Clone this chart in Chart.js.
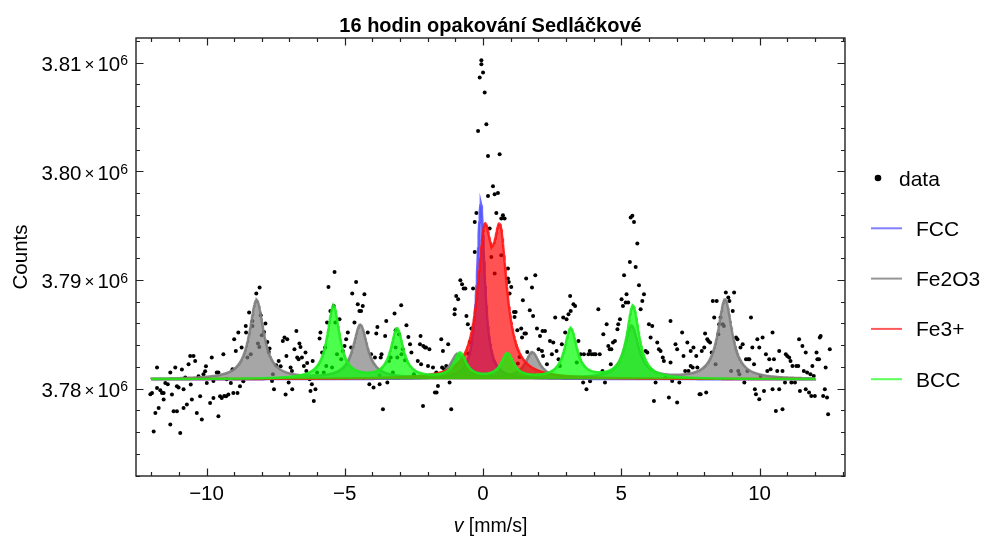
<!DOCTYPE html>
<html>
<head>
<meta charset="utf-8">
<script src="https://cdn.jsdelivr.net/npm/chart.js@4.4.0/dist/chart.umd.min.js"></script>
<style>
  html, body { margin: 0; padding: 0; background: #fff; }
  canvas { display: block; }
</style>
</head>
<body>
<canvas id="spectrum" width="987" height="540"></canvas>
<script>
// measured points, velocity in mm/s
const velocity = [
  -12.03,-11.97,-11.91,-11.85,-11.79,-11.79,-11.73,-11.67,-11.61,-11.55,-11.55,-11.49,-11.40,-11.31,-11.31,-11.25,-11.19,-11.13,-11.07,-11.07,
  -11.01,-10.95,-10.89,-10.83,-10.83,-10.77,-10.71,-10.65,-10.59,-10.57,-10.53,-10.47,-10.41,-10.35,-10.29,-10.23,-10.17,-10.11,-10.05,-10.02,
  -9.99,-9.87,-9.81,-9.75,-9.75,-9.63,-9.57,-9.57,-9.51,-9.45,-9.39,-9.36,-9.29,-9.27,-9.21,-9.12,-9.06,-9.03,-9.00,-8.94,
  -8.88,-8.85,-8.79,-8.73,-8.67,-8.58,-8.57,-8.52,-8.46,-8.40,-8.34,-8.34,
  -8.20,-8.08,-8.04,-8.00,-7.92,-7.87,-7.80,-7.75,-8.14,-8.09,-7.72,-7.60,-7.63,-7.56,-7.48,-7.39,-7.32,-7.24,-7.18,-7.11,
  -7.08,-7.14,-7.03,-6.96,-6.91,-6.90,-6.82,-6.75,-6.72,-6.67,-6.64,-6.60,-6.55,-6.48,-6.42,-6.39,-6.36,-6.27,-6.24,-6.19,
  -6.16,-6.12,-6.06,-6.00,-5.91,-5.88,-5.82,-5.76,-5.71,-5.67,-5.64,-5.59,-5.52,-5.46,-5.40,-5.37,-5.34,-5.28,-5.19,-5.13,
  -5.07,-5.01,-4.95,-4.89,-4.77,-4.73,-4.65,-4.59,-4.53,-4.47,-4.41,-4.35,-4.29,-4.17,-4.11,-4.05,-3.96,
  -3.91,-3.86,-3.82,-3.74,-3.70,-3.67,-3.74,-3.62,-3.54,-3.50,-3.46,-3.40,-3.34,-3.26,-3.20,-3.16,-3.16,-3.10,-3.04,-2.96,
  -2.95,-2.90,-2.82,-2.77,-2.70,-2.64,-2.59,-2.50,-2.36,-2.26,-2.24,-2.28,-2.16,-2.10,-2.06,-1.99,-1.94,-2.17,-1.81,-1.74,
  -1.68,-1.69,-1.63,-1.51,-1.48,-1.45,-1.40,-1.33,-1.26,-1.21,-1.15,-1.03,-1.02,-0.97,-0.90,-0.82,-0.76,-0.70,-0.64,-0.60,
  -0.55,
  -0.06,-0.06,0.00,-0.12,0.06,0.12,-0.18,0.18,0.60,0.36,0.18,0.42,0.54,-0.24,-0.30,0.48,0.72,0.66,0.78,0.24,
  -0.30,0.30,0.66,0.42,0.90,0.90,0.93,1.56,1.02,-0.36,0.96,1.44,1.12,1.18,1.14,-0.42,1.24,1.38,1.50,1.41,
  -0.48,-0.54,1.32,1.26,1.60,
  1.77,1.89,1.69,1.81,1.55,1.95,2.06,2.15,2.24,2.01,2.13,2.17,2.31,2.42,2.49,2.54,2.61,2.66,2.73,2.78,
  2.85,2.90,2.97,3.02,3.09,3.15,3.17,3.27,3.33,3.39,3.45,3.53,3.62,3.65,3.74,3.81,3.86,3.87,3.93,4.01,
  4.07,4.17,4.22,4.32,4.35,4.41,4.47,4.53,4.58,4.64,4.70,4.77,4.62,4.86,4.89,4.95,5.01,5.06,5.10,5.16,
  5.19,5.25,5.31,5.34,5.40,5.46,5.52,5.58,5.64,5.70,5.76,5.82,5.88,5.94,6.00,6.06,6.12,6.18,6.24,6.30,
  6.36,6.42,6.50,6.54,6.60,6.72,6.78,6.78,6.84,6.96,7.02,7.02,7.10,7.20,
  7.39,7.51,7.61,7.25,7.71,7.43,7.31,7.51,7.58,7.75,7.83,7.87,7.91,8.00,8.03,8.07,8.11,8.15,8.21,8.27,
  8.36,8.31,8.41,8.45,8.51,8.54,8.59,8.67,8.71,8.78,8.87,8.91,8.97,9.03,9.08,9.15,9.20,9.23,9.27,9.31,
  9.39,9.45,9.51,9.56,9.59,9.63,9.69,9.74,9.80,9.83,9.87,9.92,9.99,9.99,10.04,10.11,10.16,10.23,10.28,10.35,
  10.40,10.47,10.47,10.52,10.59,10.64,10.71,10.71,10.83,10.83,10.92,10.95,11.00,11.07,11.12,11.15,11.19,11.28,11.33,11.40,
  11.43,11.46,11.55,11.60,11.67,11.67,11.72,11.79,11.84,11.87,11.91,11.96,12.00,12.06,12.09,12.15,12.18,12.21,12.30,12.36,
  12.39,12.44,12.48,12.54
];
const counts = [
  3779494,3779614,3776062,3777774,3781950,3780074,3778234,3779862,3779614,3779006,3779614,3780534,3780414,3776706,3781490,3779466,3777930,3781950,3777930,3780230,
  3780110,3775934,3781766,3779954,3778234,3781030,3778546,3782254,3783018,3780386,3779006,3783018,3782558,3777774,3781150,3779310,3777166,3781334,3781610,3782070,
  3780534,3778694,3782870,3779154,3780718,3781490,3781490,3777470,3779310,3779154,3783174,3779338,3779310,3780874,3779466,3780534,3781794,3779614,3784554,3783478,
  3779614,3785170,3780230,3783790,3780690,3785778,3785170,3782870,3787010,3783174,3786238,3785778,
  3788758,3789310,3786762,3784922,3785226,3785998,3784306,3783386,3784158,3783846,3783698,3781334,3780718,3779954,3782162,3782558,3782070,3784398,3784710,3783018,
  3784554,3779466,3780570,3781950,3781638,3779954,3783634,3785318,3782870,3782714,3784158,3783846,3782870,3782098,3783330,3781638,3782374,3780874,3779798,3780414,
  3782558,3778878,3779954,3781490,3784618,3785170,3783330,3781490,3783790,3782098,3786090,3789366,3787158,3781950,3787618,3790746,3786090,3783174,3786394,3782714,
  3783478,3783938,3784554,3785170,3783790,3788758,3786090,3789826,3787774,3787158,3787158,3787618,3788694,3785170,3780414,3783174,3780110,
  3782870,3785078,3785686,3781242,3782870,3783174,3780414,3778114,3784858,3786238,3780570,3782558,3782870,3781490,3786918,3783790,3785382,3782870,3785014,3787682,
  3783174,3783634,3782622,3785842,3784766,3784094,3783330,3781334,3782558,3784858,3782254,3784094,3783938,3783790,3783790,3782098,3783634,3778418,3781950,3779650,
  3779650,3781490,3780258,3784554,3781950,3783478,3781794,3782098,3784094,3780570,3778114,3786854,3787314,3788538,3788234,3789982,3789614,3789218,3789218,3786698,
  3785934,
  3810222,3809854,3809090,3808630,3807250,3804334,3803718,3801418,3801574,3798630,3797738,3797894,3798014,3796174,3795346,3796174,3795962,3795658,3795658,3794738,
  3792586,3792126,3792282,3790598,3791058,3790138,3789826,3790138,3789366,3789218,3788758,3788142,3787066,3787066,3786606,3785538,3785382,3785538,3785078,3784710,
  3784306,3783238,3782926,3782318,3783386,
  3789310,3790442,3787222,3786698,3785078,3785538,3784858,3785318,3785318,3783634,3783478,3783018,3782254,3784398,3783174,3784250,3786550,3783478,3782714,3782098,
  3784094,3786550,3785170,3786394,3786854,3788538,3787158,3787774,3787618,3782410,3784398,3783174,3780570,3783174,3779954,3783174,3783478,3780690,3783174,3783174,
  3783174,3787314,3783174,3781638,3785014,3780570,3785934,3783938,3783634,3783634,3784250,3784398,3782254,3785474,3785934,3786394,3788234,3787618,3790442,3787930,
  3788694,3787930,3791666,3795750,3795902,3795346,3791206,3793358,3789522,3787314,3788078,3788694,3783478,3783330,3785934,3784710,3785778,3778878,3780570,3784250,
  3783634,3783478,3782870,3782558,3781030,3779190,3786238,3782410,3780718,3784094,3778730,3783634,3780570,3785170,
  3784250,3783478,3783790,3783018,3783018,3781638,3781638,3782098,3781950,3781950,3779494,3779494,3783478,3783790,3785078,3779650,3784554,3784398,3784250,3783330,
  3786550,3788078,3782254,3788078,3785014,3785934,3786550,3785934,3785778,3788850,3788390,3788078,3781638,3787158,3788850,3784710,3784554,3781638,3781334,3783790,
  3784094,3780570,3782714,3781638,3782714,3782714,3786550,3783790,3782254,3779954,3779494,3784554,3783790,3779034,3781178,3784710,3779798,3783174,3781638,3782714,
  3781794,3785170,3779954,3782714,3777958,3781638,3783478,3779954,3778114,3781638,3780570,3783174,3783018,3782870,3782558,3780570,3782098,3780570,3782098,3782098,
  3784554,3779798,3783938,3781638,3783330,3779954,3781490,3779650,3781334,3779338,3782098,3781178,3779338,3783330,3782714,3782714,3784710,3784858,3779338,3779954,
  3781950,3779190,3777654,3783634
];

// fitted components (Lorentzian lines above a common baseline)
const baseline = 3780870;
const fccPos = [-0.08];
const fccAmp = [16200];
const fccHalfWidth = 0.17;
const hematitePos = [-8.19, -4.44, -0.92, 1.78, 5.37, 8.75];
const hematiteAmp = [7250, 4950, 2250, 2400, 4850, 7300];
const hematiteHalfWidth = 0.31;
const fe3Pos = [0.05, 0.62];
const fe3Amp = [11700, 11700];
const fe3HalfWidth = 0.3;
const bccPos = [-5.41, -3.11, -0.83, 0.88, 3.17, 5.42];
const bccAmp = [6700, 4550, 2300, 2250, 4550, 6700];
const bccHalfWidth = 0.27;

const xMajorTicks = [-10, -5, 0, 5, 10];
const yMajorTicks = [3780000, 3790000, 3800000, 3810000];
const legendNames = ['data', 'FCC', 'Fe2O3', 'Fe3+', 'BCC'];

const FONT = '"Liberation Sans", Arial, Helvetica, sans-serif';

function curve(pos, amp, hw) {
  const pts = [];
  for (let i = 0; i <= 1200; i++) {
    const x = -12 + i * 0.02;
    let y = baseline;
    for (let k = 0; k < pos.length; k++) {
      const u = (x - pos[k]) / hw;
      y += amp[k] / (1 + u * u);
    }
    pts.push({ x: x, y: y });
  }
  return pts;
}

const points = velocity.map((v, i) => ({ x: v, y: counts[i] }));

const legendColors = ['#000', 'rgb(128,128,255)', 'rgb(150,150,150)', 'rgb(255,90,90)', 'rgb(90,255,90)'];

// frame, ticks, labels, legend and title
const decorations = {
  id: 'decorations',
  afterDraw(chart) {
    const { ctx, chartArea: a, scales } = chart;
    const xs = scales.x, ys = scales.y;
    ctx.save();
    ctx.strokeStyle = '#222';
    ctx.lineWidth = 1.4;
    ctx.strokeRect(a.left, a.top, a.right - a.left, a.bottom - a.top);

    ctx.lineWidth = 1.2;
    ctx.beginPath();
    for (let v = -12; v <= 13; v++) {
      const px = Math.round(xs.getPixelForValue(v)) + 0.5;
      const len = v % 5 === 0 ? 7.5 : 4;
      ctx.moveTo(px, a.bottom); ctx.lineTo(px, a.bottom - len);
      ctx.moveTo(px, a.top); ctx.lineTo(px, a.top + len);
    }
    for (let c = 3772000; c <= 3812000; c += 2000) {
      const py = Math.round(ys.getPixelForValue(c)) + 0.5;
      const len = c % 10000 === 0 ? 7.5 : 4;
      ctx.moveTo(a.left, py); ctx.lineTo(a.left + len, py);
      ctx.moveTo(a.right, py); ctx.lineTo(a.right - len, py);
    }
    ctx.stroke();

    ctx.fillStyle = '#000';
    ctx.font = '20.5px ' + FONT;
    ctx.textAlign = 'center';
    ctx.textBaseline = 'alphabetic';
    xMajorTicks.forEach(v => {
      const label = v < 0 ? '\u2212' + Math.abs(v) : String(v);
      ctx.fillText(label, xs.getPixelForValue(v), a.bottom + 23.5);
    });

    yMajorTicks.forEach(c => {
      const py = ys.getPixelForValue(c);
      const right = a.left - 8;
      ctx.font = '14px ' + FONT;
      ctx.textAlign = 'right';
      ctx.fillText('6', right, py + 2.7);
      const supW = ctx.measureText('6').width;
      ctx.font = '20.5px ' + FONT;
      ctx.fillText('10', right - supW, py + 8.4);
      const tenW = ctx.measureText('10').width;
      ctx.font = '17px ' + FONT;
      ctx.fillText('\u00d7', right - supW - tenW - 3, py + 7.4);
      const timesW = ctx.measureText('\u00d7').width;
      ctx.font = '20.5px ' + FONT;
      ctx.fillText((c / 1e6).toFixed(2), right - supW - tenW - timesW - 6, py + 8.4);
    });

    // axis labels
    ctx.font = 'italic 19.5px ' + FONT;
    const vW = ctx.measureText('v').width;
    ctx.font = '19.5px ' + FONT;
    const restW = ctx.measureText(' [mm/s]').width;
    const startX = (a.left + a.right) / 2 - (vW + restW) / 2;
    ctx.textAlign = 'left';
    ctx.font = 'italic 19.5px ' + FONT;
    ctx.fillText('v', startX, 532);
    ctx.font = '19.5px ' + FONT;
    ctx.fillText(' [mm/s]', startX + vW, 532);

    ctx.save();
    ctx.translate(26.5, (a.top + a.bottom) / 2);
    ctx.rotate(-Math.PI / 2);
    ctx.textAlign = 'center';
    ctx.font = '20.5px ' + FONT;
    ctx.fillText('Counts', 0, 0);
    ctx.restore();

    // title
    ctx.textAlign = 'center';
    ctx.font = 'bold 20px ' + FONT;
    ctx.fillText('16 hodin opakování Sedláčkové', (a.left + a.right) / 2, 32);

    // legend
    ctx.textAlign = 'left';
    ctx.font = '21px ' + FONT;
    legendNames.forEach((name, i) => {
      const cy = 178 + i * 50.3;
      if (i === 0) {
        ctx.fillStyle = '#000';
        ctx.beginPath();
        ctx.arc(878, cy, 3.3, 0, Math.PI * 2);
        ctx.fill();
        ctx.fillText(name, 899, cy + 7.5);
      } else {
        ctx.strokeStyle = legendColors[i];
        ctx.lineWidth = 2;
        ctx.beginPath();
        ctx.moveTo(871, cy);
        ctx.lineTo(902, cy);
        ctx.stroke();
        ctx.fillStyle = '#000';
        ctx.fillText(name, 916, cy + 7.3);
      }
    });
    ctx.restore();
  }
};

const lineBase = { showLine: true, pointRadius: 0, borderWidth: 2.4, tension: 0, fill: { value: baseline } };

new Chart(document.getElementById('spectrum'), {
  type: 'scatter',
  data: {
    datasets: [
      { label: 'data', data: points, order: 5, pointRadius: 2, pointBackgroundColor: '#000', pointBorderWidth: 0, showLine: false },
      Object.assign({ label: 'FCC', data: curve(fccPos, fccAmp, fccHalfWidth), order: 4,
        borderColor: 'rgba(80,80,255,0.85)', backgroundColor: 'rgba(80,80,255,0.7)' }, lineBase),
      Object.assign({ label: 'Fe2O3', data: curve(hematitePos, hematiteAmp, hematiteHalfWidth), order: 3,
        borderColor: 'rgba(125,125,125,0.9)', backgroundColor: 'rgba(128,128,128,0.7)' }, lineBase),
      Object.assign({ label: 'Fe3+', data: curve(fe3Pos, fe3Amp, fe3HalfWidth), order: 2,
        borderColor: 'rgba(255,20,20,0.9)', backgroundColor: 'rgba(255,0,0,0.68)' }, lineBase),
      Object.assign({ label: 'BCC', data: curve(bccPos, bccAmp, bccHalfWidth), order: 1,
        borderColor: 'rgba(30,235,30,0.9)', backgroundColor: 'rgba(0,255,0,0.7)' }, lineBase)
    ]
  },
  options: {
    responsive: false,
    devicePixelRatio: 1,
    animation: false,
    events: [],
    layout: { padding: { left: 136, right: 142, top: 38, bottom: 64 } },
    plugins: { legend: { display: false }, title: { display: false }, tooltip: { enabled: false } },
    scales: {
      x: { type: 'linear', min: -12.55, max: 13.09, display: false },
      y: { type: 'linear', min: 3771970, max: 3812265, display: false }
    }
  },
  plugins: [decorations]
});
</script>
</body>
</html>
